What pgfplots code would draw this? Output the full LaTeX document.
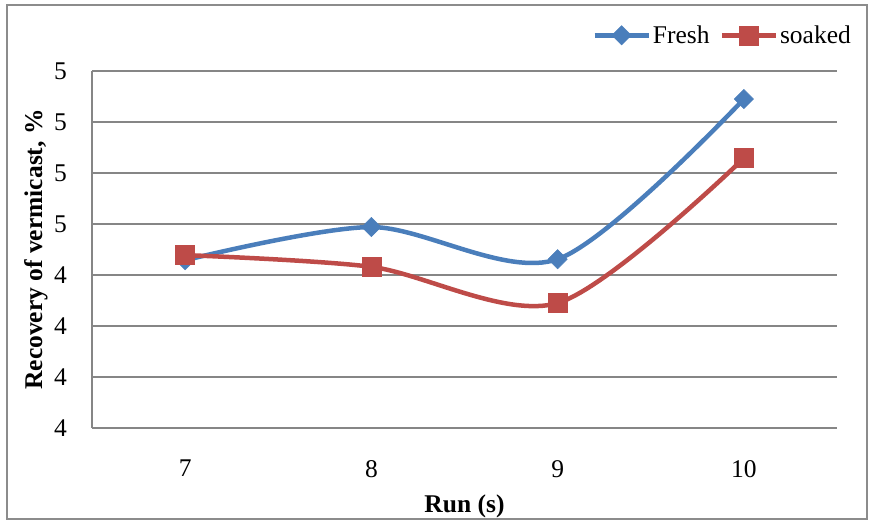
\documentclass[border=0pt]{standalone}
\usepackage{pgfplots}
\pgfplotsset{compat=1.18}
\usepackage{fontspec}
\setmainfont{Liberation Serif}

\definecolor{freshblue}{RGB}{74,126,187}
\definecolor{soakred}{RGB}{190,75,72}
\definecolor{gridgray}{RGB}{134,134,134}
\definecolor{framegray}{RGB}{140,140,140}

\newcommand{\chartfont}{\fontsize{25.5bp}{30bp}\selectfont}

\begin{document}
\begin{tikzpicture}[x=1bp,y=1bp]
  \useasboundingbox (0,0) rectangle (873,521);
  % chart area frame
  \draw[framegray, line width=2bp] (6.5,1.5) rectangle (867,516);

  \begin{axis}[
    at={(92bp,93bp)}, anchor=south west,
    scale only axis,
    width=745bp, height=357bp,
    xmin=6.5, xmax=10.5,
    ymin=4.1, ymax=4.8,
    xtick={7,8,9,10},
    xticklabels={7,8,9,10},
    ytick={4.1,4.2,4.3,4.4,4.5,4.6,4.7,4.8},
    yticklabels={4,4,4,4,5,5,5,5},
    axis x line*=bottom,
    axis y line*=left,
    axis line style={gridgray, line width=1.5bp, -},
    major tick length=0pt,
    ymajorgrids,
    major grid style={gridgray, line width=1.5bp},
    tick label style={font=\chartfont, inner sep=0pt},
    yticklabel shift=25bp,
    xticklabel shift=32bp,
    xlabel={\textbf{Run (s)}},
    ylabel={\textbf{Recovery of vermicast, \%}},
    label style={font=\chartfont},
    xlabel style={at={(axis description cs:0.5,-0.238)}, anchor=base},
    ylabel style={at={(axis description cs:-0.067,0.5)}, anchor=base},
    legend style={
      at={(axis description cs:1.0255,1.10)}, anchor=east,
      draw=none, fill=none,
      font=\chartfont,
      nodes={inner sep=2bp},
      /tikz/every even column/.append style={column sep=8bp},
    },
    legend columns=2,
    legend image code/.code={
      \draw[mark repeat=2, mark phase=2]
        plot coordinates {(0bp,0bp) (27bp,0bp) (54bp,0bp)};
    },
    clip=false,
  ]
    \addplot[freshblue, line width=4.5bp, smooth,
      mark=square*, mark size=6.8bp,
      mark options={rotate=45, solid, fill=freshblue, draw=freshblue, line width=0.5bp}]
      coordinates {(7,4.429) (8,4.494) (9,4.431) (10,4.745)};
    \addlegendentry{Fresh}

    \addplot[soakred, line width=4.5bp, smooth,
      mark=square*, mark size=9.5bp,
      mark options={solid, fill=soakred, draw=soakred, line width=0.5bp}]
      coordinates {(7,4.439) (8,4.416) (9,4.345) (10,4.629)};
    \addlegendentry{soaked}
  \end{axis}
\end{tikzpicture}
\end{document}
